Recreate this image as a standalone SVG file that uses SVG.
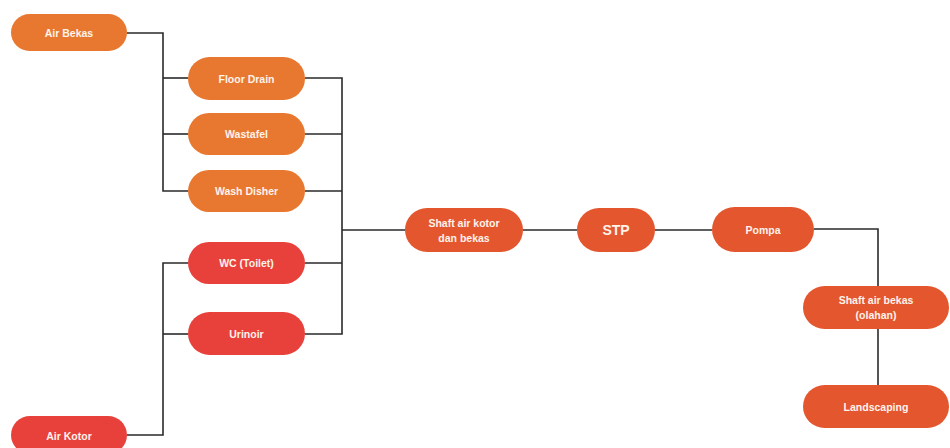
<svg xmlns="http://www.w3.org/2000/svg" width="950" height="448" viewBox="0 0 950 448">
<style>
.n{stroke:none}
.o{fill:#E87830}
.r{fill:#E8413C}
.d{fill:#E4572E}
text{font-family:"Liberation Sans",Arial,sans-serif;font-weight:bold;font-size:10.5px;fill:#FFF3EA;text-anchor:middle;dominant-baseline:central}
.c{fill:none;stroke:#2a2a2a;stroke-width:1.6}
</style>
<rect width="950" height="448" fill="#ffffff"/>
<g id="connectors" class="c">
<polyline points="127,33 163,33 163,191 188,191"/>
<line x1="163" y1="78" x2="188" y2="78"/>
<line x1="163" y1="134" x2="188" y2="134"/>
<polyline points="127,435 163,435 163,263 188,263"/>
<line x1="163" y1="334" x2="188" y2="334"/>
<polyline points="305,78 342,78 342,334 305,334"/>
<line x1="305" y1="134" x2="342" y2="134"/>
<line x1="305" y1="191" x2="342" y2="191"/>
<line x1="305" y1="263" x2="342" y2="263"/>
<line x1="342" y1="230" x2="405" y2="230"/>
<line x1="523" y1="230" x2="577" y2="230"/>
<line x1="655" y1="230" x2="712" y2="230"/>
<polyline points="814,229 878,229 878,286"/>
<line x1="878" y1="329" x2="878" y2="385"/>
</g>
<g id="air-bekas"><rect class="o" x="11" y="14" width="116" height="37" rx="18.5"/><text x="69" y="33">Air Bekas</text></g>
<g id="floor-drain"><rect class="o" x="188" y="57" width="117" height="43" rx="21.5"/><text x="246.5" y="78.5">Floor Drain</text></g>
<g id="wastafel"><rect class="o" x="188" y="113" width="117" height="42" rx="21"/><text x="246.5" y="134">Wastafel</text></g>
<g id="wash-disher"><rect class="o" x="188" y="170" width="117" height="42" rx="21"/><text x="246.5" y="191">Wash Disher</text></g>
<g id="wc-toilet"><rect class="r" x="188" y="242" width="117" height="42" rx="21"/><text x="246.5" y="263">WC (Toilet)</text></g>
<g id="urinoir"><rect class="r" x="188" y="312" width="117" height="43" rx="21.5"/><text x="246.5" y="333.5">Urinoir</text></g>
<g id="air-kotor"><rect class="r" x="11" y="416" width="116" height="38" rx="19"/><text x="69" y="436">Air Kotor</text></g>
<g id="shaft-kotor-bekas"><rect class="d" x="405" y="208" width="118" height="44" rx="22"/><text x="464" y="223">Shaft air kotor</text><text x="464" y="238">dan bekas</text></g>
<g id="stp"><rect class="d" x="577" y="208" width="78" height="44" rx="22"/><text x="616" y="230" style="font-size:14px">STP</text></g>
<g id="pompa"><rect class="d" x="712" y="207" width="102" height="45" rx="22.5"/><text x="763" y="229.5">Pompa</text></g>
<g id="shaft-bekas-olahan"><rect class="d" x="803" y="286" width="146" height="43" rx="21.5"/><text x="876" y="300">Shaft air bekas</text><text x="876" y="315">(olahan)</text></g>
<g id="landscaping"><rect class="d" x="803" y="385" width="146" height="43" rx="21.5"/><text x="876" y="406.5">Landscaping</text></g>
</svg>
